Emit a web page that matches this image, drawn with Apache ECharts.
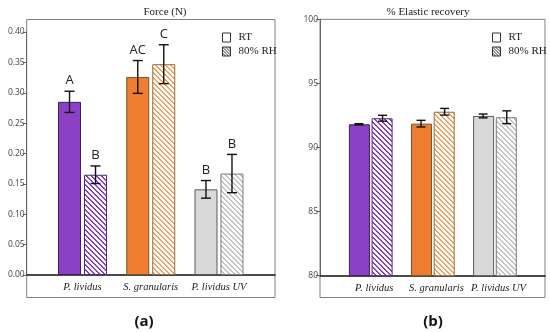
<!DOCTYPE html>
<html><head><meta charset="utf-8">
<script src="https://cdn.jsdelivr.net/npm/echarts@6/dist/echarts.min.js"></script>
<style>html,body{margin:0;padding:0;background:#fff}#c{width:550px;height:332px}</style>
</head><body><div id="c"></div>
<script>
// ---- data ----
const categories = ['P. lividus', 'S. granularis', 'P. lividus UV'];
// Panel (a) Force (N)
const forceRT = [0.285, 0.326, 0.141];
const forceRTerr = [0.0175, 0.027, 0.0145];
const forceRH = [0.165, 0.347, 0.167];
const forceRHerr = [0.0145, 0.032, 0.0315];
const lettersRT = ['A', 'AC', 'B'];
const lettersRH = ['B', 'C', 'B'];
// Panel (b) % Elastic recovery
const elasticRT = [91.81, 91.86, 92.46];
const elasticRTerr = [0.05, 0.26, 0.15];
const elasticRH = [92.28, 92.79, 92.36];
const elasticRHerr = [0.23, 0.26, 0.5];
const forceTicks = [0, 0.4, 0.05];
const elasticTicks = [80, 100, 5];

// ---- styles ----
const fills = ['#8b40c6', '#ee7d31', '#d9d9d9'];
const borders = ['#3b2060', '#6e5a2a', '#5a5a5a'];
const hatchCols = ['#8b40c6', '#f0a464', '#c4c4c4'];
const hatchBorders = ['#4a2a7a', '#9a6a3a', '#7a7a7a'];

function hatch(color, bg, size, w) {
  const c = document.createElement('canvas');
  c.width = c.height = size;
  const ctx = c.getContext('2d');
  ctx.fillStyle = bg; ctx.fillRect(0, 0, size, size);
  ctx.fillStyle = color;
  for (let y = 0; y < size; y++) for (let x = 0; x < size; x++) {
    if ((((x - y) % size) + size) % size < w) ctx.fillRect(x, y, 1, 1);
  }
  return { image: c, repeat: 'repeat' };
}

const chart = echarts.init(document.getElementById('c'), null, { renderer: 'canvas' });

function rtData(vals) {
  return vals.map((v, i) => ({ value: v, itemStyle: { color: fills[i], borderColor: borders[i], borderWidth: 1 } }));
}
function rhData(vals) {
  return vals.map((v, i) => ({ value: v, itemStyle: { color: hatch(hatchCols[i], '#ffffff', 5, 2), borderColor: hatchBorders[i], borderWidth: 1 } }));
}
function errData(vals, errs) {
  return vals.map((v, i) => [i, v - errs[i], v + errs[i]]);
}
function errSeries(name, vals, errs, letters, axisIdx, offset, cap, letterGap) {
  return {
    type: 'custom', name: name + '_err', xAxisIndex: axisIdx, yAxisIndex: axisIdx, z: 5,
    silent: true,
    data: errData(vals, errs),
    renderItem: function (params, api) {
      const lo = api.coord([api.value(0), api.value(1)]);
      const hi = api.coord([api.value(0), api.value(2)]);
      const x = lo[0] + offset;
      const st = { stroke: '#111', lineWidth: 1.4 };
      const children = [
        { type: 'line', shape: { x1: x, y1: lo[1], x2: x, y2: hi[1] }, style: st },
        { type: 'line', shape: { x1: x - cap / 2, y1: lo[1], x2: x + cap / 2, y2: lo[1] }, style: st },
        { type: 'line', shape: { x1: x - cap / 2, y1: hi[1], x2: x + cap / 2, y2: hi[1] }, style: st }
      ];
      const t = letters ? letters[params.dataIndex] : '';
      if (t) children.push({ type: 'text', style: { text: t, x: x, y: hi[1] - letterGap, align: 'center', verticalAlign: 'bottom', fontFamily: 'Open Sans', fontSize: 13, fill: '#222' } });
      return { type: 'group', children: children };
    }
  };
}

const hiddenX = (gi) => ({ gridIndex: gi, type: 'value', min: 0, max: 1, show: false });
const hiddenY = (gi) => ({ gridIndex: gi, type: 'value', min: 0, max: 1, show: false });

const legendCommon = {
  orient: 'vertical', icon: 'rect', itemWidth: 8, itemHeight: 9, itemGap: 3,
  selectedMode: false,
  textStyle: { fontFamily: 'Liberation Serif', fontSize: 11, color: '#222', padding: [0, 0, 0, 3] },
  data: [
    { name: 'RT', itemStyle: { color: '#ffffff', borderColor: '#333', borderWidth: 1 } },
    { name: '80% RH', itemStyle: { color: hatch('#333333', '#ffffff', 3, 1), borderColor: '#333', borderWidth: 1 } }
  ]
};

const catLabel = { margin: 7, interval: 0, fontFamily: 'Liberation Serif', fontStyle: 'italic', fontSize: 10.5, color: '#222' };

const option = {
  animation: false,
  backgroundColor: '#fff',
  title: [
    { text: 'Force (N)', left: 160, top: 2, textAlign: 'center', textStyle: { fontFamily: 'Liberation Serif', fontSize: 11, fontWeight: 'normal', color: '#222' } },
    { text: '% Elastic recovery', left: 423, top: 2, textAlign: 'center', textStyle: { fontFamily: 'Liberation Serif', fontSize: 11, fontWeight: 'normal', color: '#222' } },
    { text: '(a)', left: 139, top: 309, textAlign: 'center', textStyle: { fontFamily: 'Open Sans', fontSize: 15, fontWeight: 'bold', color: '#111' } },
    { text: '(b)', left: 428, top: 309, textAlign: 'center', textStyle: { fontFamily: 'Open Sans', fontSize: 15, fontWeight: 'bold', color: '#111' } }
  ],
  legend: [
    Object.assign({}, legendCommon, { left: 217, top: 27 }),
    Object.assign({}, legendCommon, { left: 487, top: 27 })
  ],
  grid: [
    { left: 26.7, top: 19.5, width: 248.3, height: 278, show: true, borderColor: '#808080', borderWidth: 1, backgroundColor: 'transparent' },
    { left: 26.7, top: 32, width: 248.3, height: 243 },
    { left: 48.4, top: 32, width: 204.7, height: 243 },
    { left: 320, top: 19.3, width: 225, height: 278.2, show: true, borderColor: '#808080', borderWidth: 1, backgroundColor: 'transparent' },
    { left: 320, top: 19.3, width: 225, height: 256.4 },
    { left: 339.7, top: 19.3, width: 186.3, height: 256.4 }
  ],
  xAxis: [
    hiddenX(0),
    { gridIndex: 1, type: 'value', min: 0, max: 1, axisLine: { show: true, onZero: false, lineStyle: { color: '#111', width: 1.5 } }, axisTick: { show: false }, axisLabel: { show: false }, splitLine: { show: false } },
    { gridIndex: 2, type: 'category', data: categories, axisLine: { show: false }, axisTick: { show: false }, axisLabel: catLabel },
    hiddenX(3),
    { gridIndex: 4, type: 'value', min: 0, max: 1, axisLine: { show: true, onZero: false, lineStyle: { color: '#111', width: 1.5 } }, axisTick: { show: false }, axisLabel: { show: false }, splitLine: { show: false } },
    { gridIndex: 5, type: 'category', data: categories, axisLine: { show: false }, axisTick: { show: false },
      axisLabel: Object.assign({}, catLabel, { padding: [0, 0, 0, 7] }) }
  ],
  yAxis: [
    hiddenY(0),
    { gridIndex: 1, type: 'value', min: forceTicks[0], max: forceTicks[1], interval: forceTicks[2],
      axisLine: { show: true, lineStyle: { color: '#666', width: 1 } },
      axisTick: { show: true, length: 4, lineStyle: { color: '#666' } },
      axisLabel: { margin: 2, fontFamily: 'Open Sans', fontSize: 8.5, color: '#444', formatter: v => v.toFixed(2) },
      splitLine: { show: false } },
    { gridIndex: 2, type: 'value', min: forceTicks[0], max: forceTicks[1], show: false, splitLine: { show: false } },
    hiddenY(3),
    { gridIndex: 4, type: 'value', min: elasticTicks[0], max: elasticTicks[1], interval: elasticTicks[2],
      axisLine: { show: true, lineStyle: { color: '#666', width: 1 } },
      axisTick: { show: true, length: 4, lineStyle: { color: '#666' } },
      axisLabel: { margin: 2, fontFamily: 'Open Sans', fontSize: 8.5, color: '#444' },
      splitLine: { show: false } },
    { gridIndex: 5, type: 'value', min: elasticTicks[0], max: elasticTicks[1], show: false, splitLine: { show: false } }
  ],
  series: [
    { type: 'bar', name: 'RT', xAxisIndex: 2, yAxisIndex: 2, barWidth: 23, barGap: '13%', data: rtData(forceRT),
      itemStyle: { color: '#fff', borderColor: '#333' } },
    { type: 'bar', name: '80% RH', xAxisIndex: 2, yAxisIndex: 2, barWidth: 23, barGap: '13%', data: rhData(forceRH),
      itemStyle: { color: '#ccc', borderColor: '#333' } },
    errSeries('RT', forceRT, forceRTerr, lettersRT, 2, -13, 10, 4),
    errSeries('80% RH', forceRH, forceRHerr, lettersRH, 2, 13, 10, 4),
    { type: 'bar', name: 'RT', xAxisIndex: 5, yAxisIndex: 5, barWidth: 21, barGap: '8%', data: rtData(elasticRT),
      itemStyle: { color: '#fff', borderColor: '#333' } },
    { type: 'bar', name: '80% RH', xAxisIndex: 5, yAxisIndex: 5, barWidth: 21, barGap: '8%', data: rhData(elasticRH),
      itemStyle: { color: '#ccc', borderColor: '#333' } },
    errSeries('RT', elasticRT, elasticRTerr, null, 5, -11.8, 9, 4),
    errSeries('80% RH', elasticRH, elasticRHerr, null, 5, 11.8, 9, 4)
  ]
};
chart.setOption(option);
</script>
</body></html>
